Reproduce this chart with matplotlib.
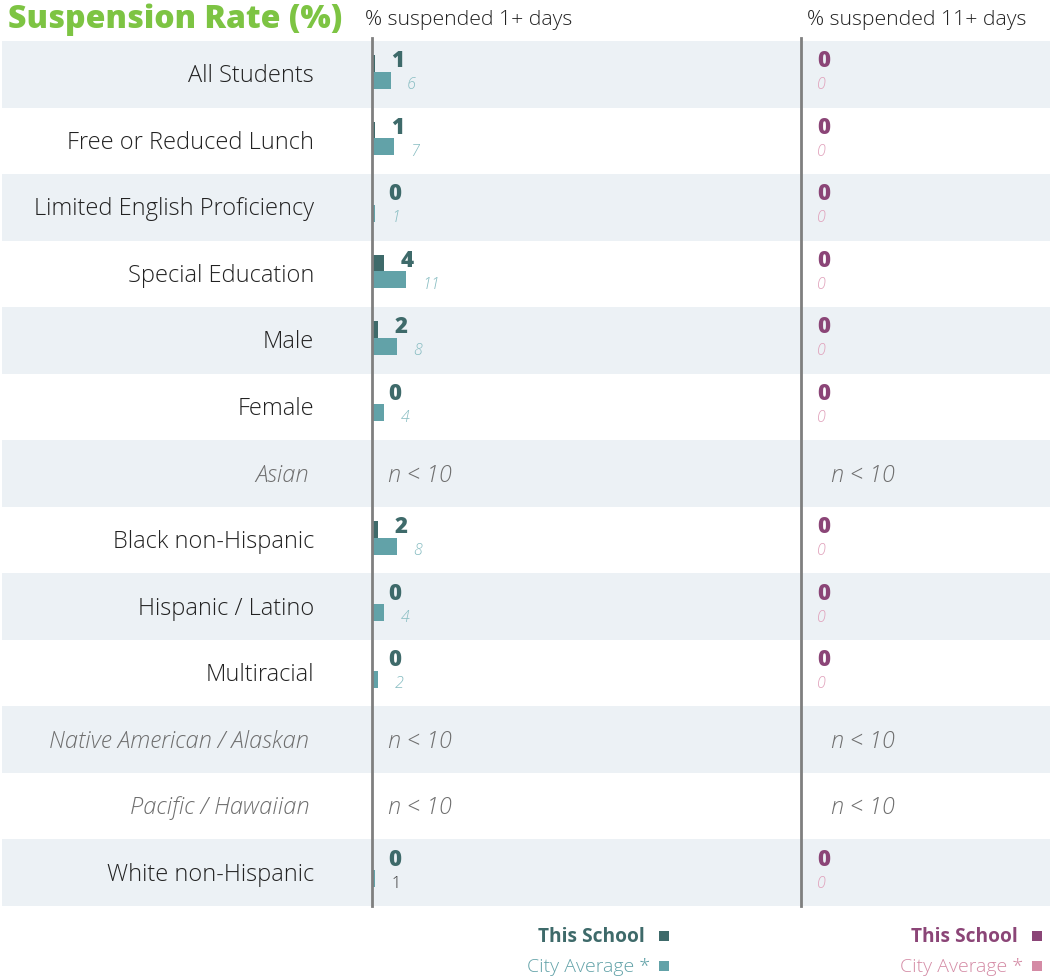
import matplotlib
matplotlib.use("Agg")
import matplotlib.pyplot as plt
from matplotlib.transforms import offset_copy

plt.rcParams['font.family'] = ['Open Sans', 'DejaVu Sans']

# ---------------- data ----------------
categories = ["All Students", "Free or Reduced Lunch", "Limited English Proficiency",
              "Special Education", "Male", "Female", "Asian", "Black non-Hispanic",
              "Hispanic / Latino", "Multiracial", "Native American / Alaskan",
              "Pacific / Hawaiian", "White non-Hispanic"]
small_n = [False, False, False, False, False, False, True, False, False, False, True, True, False]
school_1plus = [1, 1, 0, 4, 2, 0, None, 2, 0, 0, None, None, 0]
city_1plus = [6, 7, 1, 11, 8, 4, None, 8, 4, 2, None, None, 1]
school_11plus = [0, 0, 0, 0, 0, 0, None, 0, 0, 0, None, None, 0]
city_11plus = [0, 0, 0, 0, 0, 0, None, 0, 0, 0, None, None, 0]

title = "Suspension Rate (%)"
header_left = "% suspended 1+ days"
header_right = "% suspended 11+ days"

# ---------------- style ----------------
W, H = 1050, 977
DPI = 100
band_color = "#ECF1F5"
green = "#7DC443"
teal_dark = "#3E6A6A"
teal_bar = "#62A2A8"
teal_lbl = "#86BCC1"
purple = "#8B4577"
pink_lbl = "#E0A0BA"
pink_sq = "#D48BA5"
axis_grey = "#7F7F7F"
text_col = "#222222"
italic_col = "#6E6E6E"

px_per_unit = 3.1
top_px, bot_px = 41, 906
x_left_axis, x_right_axis = 372, 801

fig = plt.figure(figsize=(W / DPI, H / DPI), dpi=DPI)
fig.patch.set_facecolor("white")

n = len(categories)
bottom = 1 - bot_px / H
height = (bot_px - top_px) / H

# background axes: x in pixels, y in row units
ax_bg = fig.add_axes([0, bottom, 1, height])
ax_bg.set_xlim(0, W)
ax_bg.set_ylim(n - 0.5, -0.5)
ax_bg.axis("off")
for i in range(n):
    if i % 2 == 0:
        ax_bg.axhspan(i - 0.5, i + 0.5, xmin=2 / W, xmax=1, color=band_color, lw=0)

lbl_tr = offset_copy(ax_bg.transData, fig=fig, x=0, y=-2, units="dots")
for i, cat in enumerate(categories):
    if small_n[i]:
        ax_bg.text(309, i, cat, transform=lbl_tr, ha="right", va="center", fontsize=17,
                   style="italic", color=italic_col, fontweight="light")
    else:
        ax_bg.text(314, i, cat, transform=lbl_tr, ha="right", va="center", fontsize=17,
                   color=text_col, fontweight="light")

def panel(x0, x1):
    ax = fig.add_axes([x0 / W, bottom, (x1 - x0) / W, height])
    ax.set_xlim(0, (x1 - x0) / px_per_unit)
    ax.set_ylim(n - 0.5, -0.5)
    ax.axis("off")
    ax.patch.set_alpha(0)
    ax.axvline(0, ymin=0, ymax=1 + 3 / (bot_px - top_px), color=axis_grey, lw=2, clip_on=False, zorder=5)
    return ax

ax1 = panel(x_left_axis, x_right_axis)
ax2 = panel(x_right_axis, W)

bar_h = 0.255
off_school = -0.16
off_city = 0.09

def draw(ax, sch, cty, c_s, c_bar, c_clbl, na_dx, plain_last):
    tr = offset_copy(ax.transData, fig=fig, x=16, y=-1, units="dots")
    na_tr = offset_copy(ax.transData, fig=fig, x=0, y=-2, units="dots")
    for i in range(n):
        if sch[i] is None:
            ax.text(na_dx, i, "n < 10", transform=na_tr, ha="left", va="center", fontsize=16.8,
                    style="italic", color=italic_col, fontweight="light")
            continue
        ax.barh(i + off_school, sch[i], height=bar_h, color=c_s, lw=0, zorder=3)
        ax.barh(i + off_city, cty[i], height=bar_h, color=c_bar, lw=0, zorder=3)
        ax.text(sch[i], i - 0.21, str(sch[i]), transform=tr, ha="left", va="center",
                fontsize=16, fontweight="heavy", color=c_s)
        if plain_last and i == n - 1:
            ax.text(cty[i], i + 0.15, str(cty[i]), transform=tr, ha="left", va="center",
                    fontsize=11.5, color="#333333", fontweight="light")
        else:
            ax.text(cty[i], i + 0.15, str(cty[i]), transform=tr, ha="left", va="center",
                    fontsize=11.5, style="italic", color=c_clbl, fontweight="light")

draw(ax1, school_1plus, city_1plus, teal_dark, teal_bar, teal_lbl, 16 / px_per_unit, True)
draw(ax2, school_11plus, city_11plus, purple, pink_sq, pink_lbl, 30 / px_per_unit, False)

# title and headers (figure pixel coordinates)
def fx(x):
    return x / W
def fy(y):
    return 1 - y / H

fig.text(fx(8), fy(20), title, ha="left", va="center", fontsize=23, fontweight="heavy", color=green)
fig.text(fx(365), fy(20), header_left, ha="left", va="center", fontsize=15.3, color=text_col, fontweight="light")
fig.text(fx(807), fy(20), header_right, ha="left", va="center", fontsize=15.3, color=text_col, fontweight="light")

# legends
def legend(x_text_right, x_sq, c_school, c_city):
    fig.text(fx(x_text_right), fy(937), "This School", ha="right", va="center", fontsize=13.8,
             fontweight="bold", color=c_school)
    fig.text(fx(x_text_right + 5), fy(967), "City Average *", ha="right", va="center", fontsize=14,
             color=c_city, fontweight="light")
    fig.patches.append(plt.Rectangle((fx(x_sq), fy(941)), 10 / W, 10 / H, transform=fig.transFigure,
                                     color=c_school, lw=0))
    fig.patches.append(plt.Rectangle((fx(x_sq), fy(971)), 10 / W, 10 / H, transform=fig.transFigure,
                                     color=c_city, lw=0))

legend(645, 659, teal_dark, teal_bar)
legend(1018, 1032, purple, pink_sq)

fig.savefig("out.png", dpi=DPI)
